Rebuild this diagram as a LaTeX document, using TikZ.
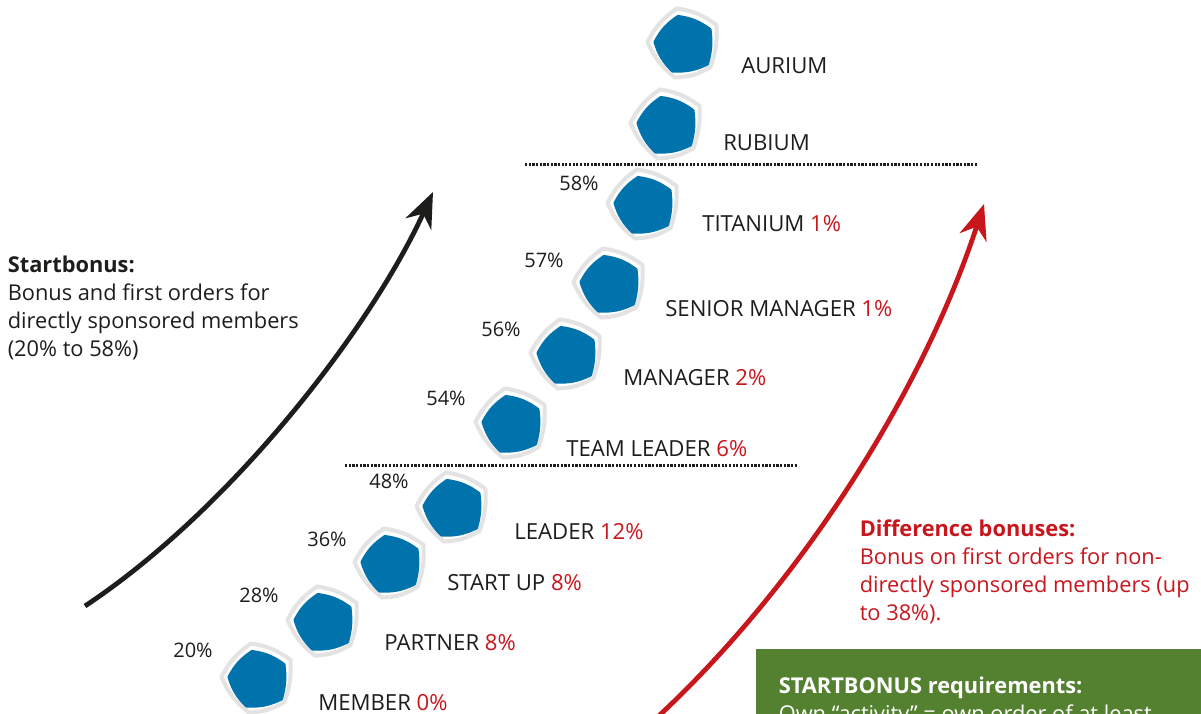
\documentclass[tikz,border=0pt]{standalone}
\usepackage{fontspec}
\setmainfont{Open Sans}
\usetikzlibrary{arrows.meta}

\definecolor{inkblack}{HTML}{1D1D1B}
\definecolor{bonusred}{HTML}{C8161D}
\definecolor{badgeblue}{HTML}{0073AC}
\definecolor{badgegray}{HTML}{E3E3E3}
\definecolor{reqgreen}{HTML}{548130}

\tikzstyle{rank}  = [anchor=west, inner sep=0pt, text=inkblack, font=\fontsize{15.75}{19}\selectfont]
\tikzstyle{pct}   = [inner sep=0pt, text=inkblack, font=\fontsize{14.2}{16}\selectfont]
\tikzstyle{note}  = [anchor=north west, inner sep=0pt, align=left, font=\fontsize{15.5}{19.9}\selectfont]
\tikzstyle{level} = [densely dotted, line width=1.6pt, inkblack]
\tikzstyle{climb} = [line width=3.4pt, -{Stealth[length=25pt,width=20pt,inset=8pt]}]

\tikzset{badge/.pic={
  \draw[badgegray, line width=2.9pt, line join=round]
    (-6,-35.5) to[bend left=14] (33.5,-19) to[bend left=11] (27.5,23)
    to[bend left=14] (-8,33.5) to[bend left=14] (-35.5,-2) to[bend left=14] cycle;
  \fill[badgeblue, draw=badgeblue, line width=2.2pt, line join=round]
    (-5,-27.5) to[bend left=14] (27,-14.5) to[bend left=11] (24.5,20)
    to[bend left=14] (-10.5,27) to[bend left=14] (-28,-2) to[bend left=14] cycle;
}}

\begin{document}
\begin{tikzpicture}[x=0.025cm,y=-0.025cm]
  \useasboundingbox (0,0) rectangle (1201,714);
  \clip (0,0) rectangle (1201,714);

  % badges, top to bottom
  \pic (aurium)   at (683,44)  {badge};
  \pic (rubium)   at (666,125) {badge};
  \pic (titanium) at (643,205) {badge};
  \pic (senior)   at (609,284) {badge};
  \pic (manager)  at (566,355) {badge};
  \pic (team)     at (511,424) {badge};
  \pic (leader)   at (452,508) {badge};
  \pic (startup)  at (390,564) {badge};
  \pic (partner)  at (323,622) {badge};
  \pic (member)   at (257,679) {badge};

  \node at (741,66)  (l-aurium)   [rank] {AURIUM};
  \node at (723,143) (l-rubium)   [rank] {RUBIUM};
  \node at (702,224) (l-titanium) [rank] {TITANIUM \textcolor{bonusred}{1\%}};
  \node at (665,309) (l-senior)   [rank] {SENIOR MANAGER \textcolor{bonusred}{1\%}};
  \node at (623,378) (l-manager)  [rank] {MANAGER \textcolor{bonusred}{2\%}};
  \node at (566,449) (l-team)     [rank] {TEAM LEADER \textcolor{bonusred}{6\%}};
  \node at (514,532) (l-leader)   [rank] {LEADER \textcolor{bonusred}{12\%}};
  \node at (447,583) (l-startup)  [rank] {START UP \textcolor{bonusred}{8\%}};
  \node at (384,643) (l-partner)  [rank] {PARTNER \textcolor{bonusred}{8\%}};
  \node at (318,703) (l-member)   [rank] {MEMBER \textcolor{bonusred}{0\%}};

  \node at (579,183) (p-titanium) [pct] {58\%};
  \node at (544,260) (p-senior)   [pct] {57\%};
  \node at (501,329) (p-manager)  [pct] {56\%};
  \node at (446,398) (p-team)     [pct] {54\%};
  \node at (389,481) (p-leader)   [pct] {48\%};
  \node at (327,539) (p-startup)  [pct] {36\%};
  \node at (259,595) (p-partner)  [pct] {28\%};
  \node at (193,650) (p-member)   [pct] {20\%};

  \coordinate (d1a) at (525,164.5);
  \coordinate (d1b) at (978,164.5);
  \coordinate (d2a) at (345,465.5);
  \coordinate (d2b) at (798,465.5);
  \draw[level] (d1a) -- (d1b);
  \draw[level] (d2a) -- (d2b);

  \coordinate (s0) at (85,606);
  \coordinate (s1) at (433,192);
  \coordinate (r0) at (640,733);
  \coordinate (r1) at (984,204);
  \draw[climb,inkblack] (s0) .. controls (230,510) and (370,330) .. (s1);
  \draw[climb,bonusred] (r0) .. controls (790,600) and (920,400) .. (r1);

  \node at (7.5,255.5) (startbonus) [note,text=inkblack]
    {\textbf{Startbonus:}\\Bonus and first orders for\\directly sponsored members\\(20\% to 58\%)};
  \node at (859.5,519.5) (difference) [note,text=bonusred]
    {\textbf{Difference bonuses:}\\Bonus on first orders for non-\\directly sponsored members (up\\to 38\%).};

  \node at (756,649) (req) [anchor=north west, fill=reqgreen, minimum width=445*0.025cm, minimum height=100*0.025cm] {};
  \node at (778.5,677) (reqtext) [note,text=white]
    {\textbf{STARTBONUS requirements:}\\Own “activity” = own order of at least};
\end{tikzpicture}
\end{document}
